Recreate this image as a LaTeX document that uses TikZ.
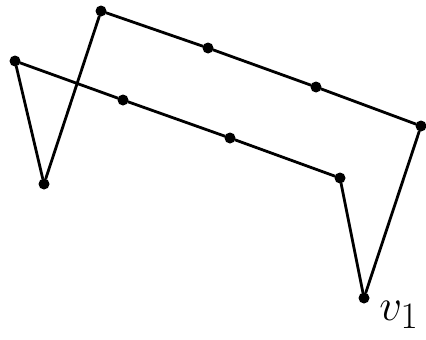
\documentclass[tikz,border=0pt]{standalone}
\usepackage{tikz}
\usetikzlibrary{positioning}

\begin{document}
\begin{tikzpicture}[
        x=1pt, y=-1pt,
        vtx/.style={circle, fill=black, inner sep=0pt, minimum size=11pt},
        ed/.style={black, line width=2.8pt, shorten <=-0.5pt, shorten >=-0.5pt},
        lbl/.style={font=\Huge, scale=1.8}
    ]
        \useasboundingbox (0,0) rectangle (426,340);
        \node[vtx] (v1) at (364,298) {};
        \node[vtx] (v2) at (421,126) {};
        \node[vtx] (v3) at (316,87) {};
        \node[vtx] (v4) at (208,48) {};
        \node[vtx] (v5) at (101,11) {};
        \node[vtx] (v6) at (44,184) {};
        \node[vtx] (v7) at (15,61) {};
        \node[vtx] (v8) at (123,100) {};
        \node[vtx] (v9) at (230,138) {};
        \node[vtx] (v10) at (340,178) {};
        \node[lbl] (l1) at (399,315) {$v_1$};
        \draw[ed] (v1)--(v2); \draw[ed] (v2)--(v3); \draw[ed] (v3)--(v4);
        \draw[ed] (v4)--(v5); \draw[ed] (v5)--(v6); \draw[ed] (v6)--(v7);
        \draw[ed] (v7)--(v8); \draw[ed] (v8)--(v9); \draw[ed] (v9)--(v10);
        \draw[ed] (v10)--(v1);
    \end{tikzpicture}
\end{document}
